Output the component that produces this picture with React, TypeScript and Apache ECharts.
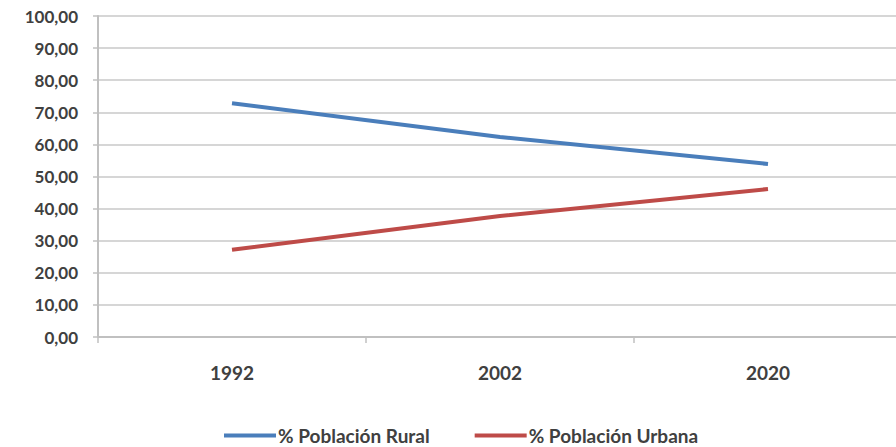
import React, { useEffect, useRef } from "react";
import * as echarts from "echarts";

const categories = ["1992", "2002", "2020"];
const rural = [72.8, 62.3, 53.9];
const urbana = [27.2, 37.7, 46.1];
const seriesNames = ["% Población Rural", "% Población Urbana"];

const FONT = "Lato";
const TEXT = "#404040";

export default function App() {
  const ref = useRef<HTMLDivElement>(null);
  useEffect(() => {
    const chart = echarts.init(ref.current!, null, { renderer: "svg" });
    chart.setOption({
      animation: false,
      backgroundColor: "#ffffff",
      grid: { left: 98, right: 0, top: 16, bottom: 110, containLabel: false },
      legend: {
        left: 224,
        top: 426,
        padding: 0,
        itemWidth: 52,
        itemHeight: 4,
        itemGap: 45,
        icon: "rect",
        textStyle: { fontFamily: FONT, fontWeight: "bold", fontSize: 19, lineHeight: 18, color: TEXT, padding: [0, 0, 0, -3] },
        data: seriesNames,
      },
      xAxis: {
        type: "category",
        data: categories,
        boundaryGap: true,
        axisLine: { lineStyle: { color: "#c0c0c0", width: 2 } },
        axisTick: { show: true, length: 6, inside: false, lineStyle: { color: "#c0c0c0", width: 1.5 } },
        axisLabel: { fontFamily: FONT, fontWeight: "bold", fontSize: 19, color: TEXT, margin: 26 },
      },
      yAxis: {
        type: "value",
        min: 0,
        max: 100,
        interval: 10,
        axisLine: { show: true, lineStyle: { color: "#c0c0c0", width: 2 } },
        axisTick: { show: true, length: 5, lineStyle: { color: "#c0c0c0", width: 1.5 } },
        splitLine: { lineStyle: { color: "#c8c8c8", width: 1.5 } },
        axisLabel: {
          fontFamily: FONT,
          fontWeight: "bold",
          fontSize: 17,
          color: TEXT,
          margin: 20,
          formatter: (v: number) => v.toFixed(2).replace(".", ","),
        },
      },
      series: [
        {
          name: seriesNames[0],
          type: "line",
          data: rural,
          symbol: "none",
          lineStyle: { color: "#4a7ebb", width: 4 },
          itemStyle: { color: "#4a7ebb" },
        },
        {
          name: seriesNames[1],
          type: "line",
          data: urbana,
          symbol: "none",
          lineStyle: { color: "#be4b48", width: 4 },
          itemStyle: { color: "#be4b48" },
        },
      ],
    });
    return () => chart.dispose();
  }, []);
  return (
    <div style={{ width: 896, height: 447, position: "absolute", left: 0, top: 0, overflow: "hidden" }}>
      <div ref={ref} style={{ width: 902, height: 447, position: "absolute", left: 0, top: 0 }} />
    </div>
  );
}
